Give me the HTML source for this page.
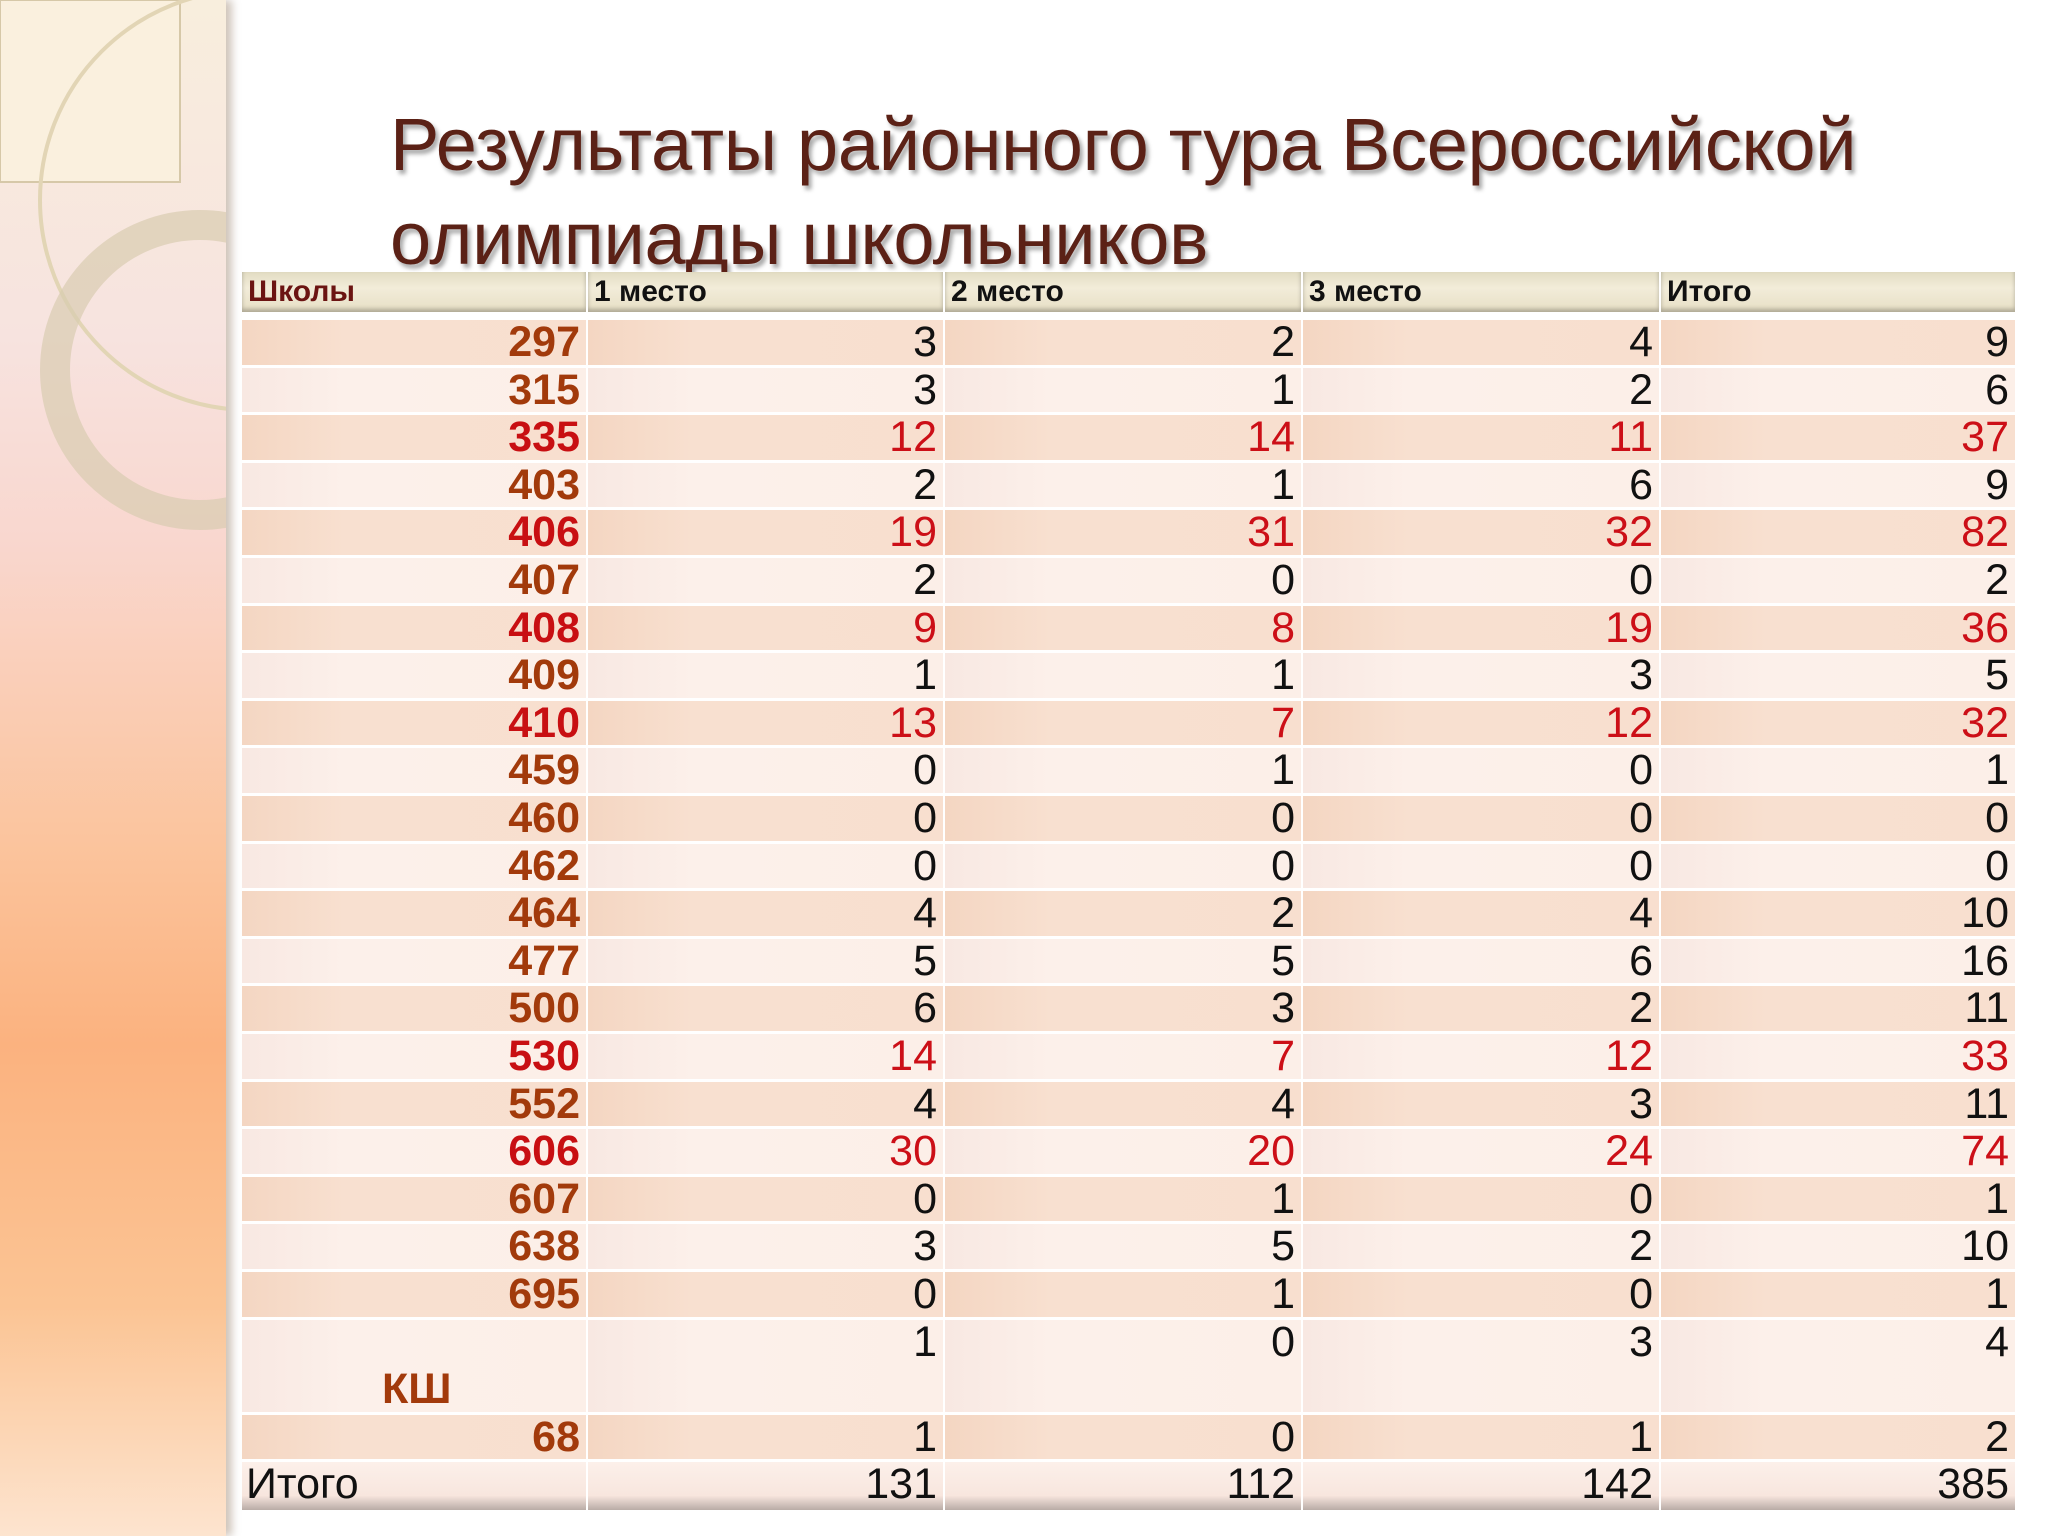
<!DOCTYPE html>
<html><head><meta charset="utf-8">
<style>
html,body{margin:0;padding:0}
body{width:2048px;height:1536px;position:relative;overflow:hidden;background:#fff;font-family:"Liberation Sans Narrow","Liberation Sans",sans-serif}
#panel{position:absolute;left:0;top:0;width:226px;height:1536px;background:linear-gradient(180deg,#f8eedd 0%,#f7e3df 22%,#f9d7cf 35%,#fbc49d 55%,#fbb27f 68%,#fbc494 85%,#fde4cf 100%);box-shadow:6px 0 8px rgba(120,90,60,.35)}
#title{position:absolute;left:390px;top:98px;font-family:"Liberation Sans",sans-serif;font-size:74px;line-height:94px;color:#5b2116;text-shadow:3px 4px 4px rgba(0,0,0,.35);letter-spacing:-0.3px;margin:0;font-weight:normal}
.cell{position:absolute;box-sizing:border-box;white-space:nowrap;overflow:hidden}
.hdr{background:linear-gradient(180deg,#e2dcc3 0%,#f2ecd9 40%,#e7dfc5 100%);font-weight:bold;font-size:30px;line-height:40px;padding-left:6px;color:#111;box-shadow:inset 0 -3px 4px rgba(0,0,0,.25)}
.num{text-align:right;padding-right:6px;font-size:43px;color:#111}
.sch{font-weight:bold;color:#a23a0b}
.red{color:#cc0f17}
</style></head><body>
<div id="panel">
<svg width="226" height="1536" style="position:absolute;left:0;top:0">
<rect x="0" y="0" width="180" height="182" fill="#faf0de" stroke="#d6c8a8" stroke-width="2"/>
<circle cx="250" cy="200" r="210" fill="none" stroke="#e2d5b5" stroke-width="4"/>
<circle cx="200" cy="370" r="145" fill="none" stroke="#d8ccb0" stroke-width="30" opacity=".7"/>
</svg>
</div>
<h1 id="title">Результаты районного тура Всероссийской<br>олимпиады школьников</h1>
<div id="table"></div>
<script>
const headers=["Школы","1 место","2 место","3 место","Итого"];
const schools=["297","315","335","403","406","407","408","409","410","459","460","462","464","477","500","530","552","606","607","638","695","КШ","68"];
const place1=[3,3,12,2,19,2,9,1,13,0,0,0,4,5,6,14,4,30,0,3,0,1,1];
const place2=[2,1,14,1,31,0,8,1,7,1,0,0,2,5,3,7,4,20,1,5,1,0,0];
const place3=[4,2,11,6,32,0,19,3,12,0,0,0,4,6,2,12,3,24,0,2,0,3,1];
const totals=[9,6,37,9,82,2,36,5,32,1,0,0,10,16,11,33,11,74,1,10,1,4,2];
const grand=[131,112,142,385];
const redRows=["335","406","408","410","530","606"];

const t=document.getElementById('table');
const cols=[242,586,943,1301,1659,2015];
function mk(cls,x,y,w,h,txt,bg){const d=document.createElement('div');d.className='cell '+cls;d.style.left=x+'px';d.style.top=y+'px';d.style.width=w+'px';d.style.height=h+'px';if(bg)d.style.background=bg;d.textContent=txt;t.appendChild(d);return d;}
headers.forEach((h,i)=>{const d=mk('hdr',cols[i]+(i?2:0),272,cols[i+1]-cols[i]-(i?2:0),40,h);


if(i===0)d.style.color='#6b1412';});
let y=320;const rh=47.6;
schools.forEach((s,r)=>{
 const h=(s==="КШ")?rh*2:rh;
 const bg=(r%2===0)?'linear-gradient(90deg,#f4d6c2,#f8e0d0 30%,#f8dfcf)':'linear-gradient(90deg,#f8e8e2,#fcf0ea 30%,#fcefe8)';
 const vals=[s,place1[r],place2[r],place3[r],totals[r]];
 const red=redRows.includes(s);
 vals.forEach((v,i)=>{
  const x=cols[i]+(i?2:0),w=cols[i+1]-cols[i]-(i?2:0);
  const d=mk('num'+(i===0?' sch':'')+(red&&i>0?' red':''),x,y,w,h-3,String(v),bg);
  d.style.lineHeight=(rh-3)+'px';
  if(s==="КШ"&&i===0){d.style.textAlign='left';d.style.paddingLeft='140px';d.style.paddingTop=rh+'px';}
  if(i===0&&red)d.style.color='#c80f12';
  
  
 });
 y+=h;
});
const fbg='linear-gradient(180deg,#fcf0ea 0%,#f8e6de 70%,#b9aca6 100%)';
const f0=mk('num',cols[0],y,cols[1]-cols[0],48,'Итого',fbg);
f0.style.textAlign='left';f0.style.paddingLeft='4px';f0.style.lineHeight='44px';


grand.forEach((v,i)=>{const d=mk('num',cols[i+1]+2,y,cols[i+2]-cols[i+1]-2,48,String(v),fbg);d.style.lineHeight='44px';

});
</script>
</body></html>
